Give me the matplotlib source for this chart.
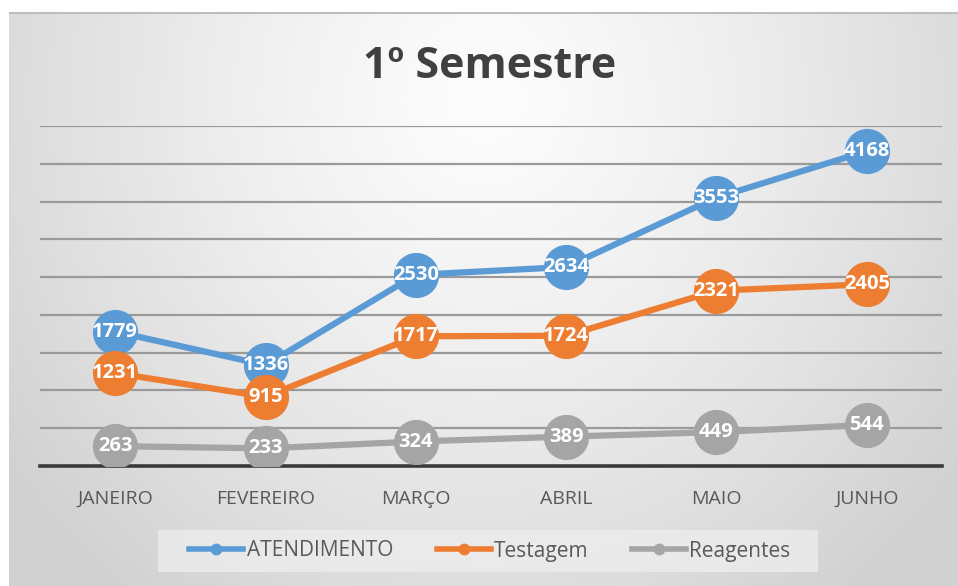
import numpy as np
import matplotlib
matplotlib.use("Agg")
import matplotlib.pyplot as plt
from matplotlib.lines import Line2D
from matplotlib.patches import Rectangle

months = ["JANEIRO", "FEVEREIRO", "MARÇO", "ABRIL", "MAIO", "JUNHO"]
atendimento = [1779, 1336, 2530, 2634, 3553, 4168]
testagem = [1231, 915, 1717, 1724, 2321, 2405]
reagentes = [263, 233, 324, 389, 449, 544]
series_names = ["ATENDIMENTO", "Testagem", "Reagentes"]
title = "1º Semestre"

colors = ["#5B9BD5", "#ED7D31", "#A5A5A5"]
FONT = ["Open Sans", "DejaVu Sans"]
plt.rcParams['font.family'] = FONT

W, H = 958, 586
fig = plt.figure(figsize=(W / 100, H / 100), dpi=100)
fig.patch.set_facecolor("white")

# background gradient
bg = fig.add_axes([9 / W, 0, 1 - 9 / W, (H - 12) / H])
bg.set_axis_off()
ny, nx = 300, 500
yy, xx = np.mgrid[0:ny, 0:nx]
cx, cy = nx * 0.5, ny * 0.15
d = np.sqrt(((xx - cx) / (nx * 0.62)) ** 2 + ((yy - cy) / (ny * 1.1)) ** 2)
d = np.clip(d, 0, 1)
val = 0.99 - 0.17 * d ** 1.3
img = np.dstack([val, val, val])
bg.imshow(img, aspect="auto", extent=[0, 1, 0, 1], origin="upper")
bg.set_xlim(0, 1)
bg.set_ylim(0, 1)
bg.plot([0, 1], [0.998, 0.998], color="#bdbdbd", lw=1.5, transform=bg.transAxes)

ax = fig.add_axes([40 / W, (H - 466) / H, 902 / W, (466 - 126) / H])
ax.patch.set_alpha(0)
x = np.arange(len(months))
ax.set_xlim(-0.5, len(months) - 0.5)
ax.set_ylim(0, 4500)
ax.set_yticks(np.arange(500, 4501, 500))
ax.yaxis.grid(True, color="#9a9a9a", lw=1.6)
ax.set_axisbelow(True)
ax.tick_params(axis="y", left=False, labelleft=False)
ax.tick_params(axis="x", length=0, pad=17, labelsize=14, labelcolor="#595959")
ax.set_xticks(x)
ax.set_xticklabels(months)
for s in ["top", "right", "left"]:
    ax.spines[s].set_visible(False)
ax.spines["bottom"].set_color("#3a3a3a")
ax.spines["bottom"].set_linewidth(2.6)

for vals, c in zip([atendimento, testagem, reagentes], colors):
    ax.plot(x, vals, color=c, lw=4.5, marker="o", markersize=31.5, zorder=3,
            solid_capstyle="round")
    for xi, v in zip(x, vals):
        ax.text(xi, v, str(v), ha="center", va="center", color="white",
                fontsize=14.5, fontweight="bold", zorder=5)

fig.text(490 / W, 1 - 66 / H, title, ha="center", va="center",
         fontsize=31, fontweight="bold", color="#404040")

# legend box
fig.patches.append(Rectangle((158 / W, 1 - 572 / H), (818 - 158) / W, 42 / H,
                             transform=fig.transFigure, facecolor="#ececec",
                             edgecolor="none", alpha=0.85, zorder=1))
handles = [Line2D([0], [0], color=c, lw=4, marker="o", markersize=7.5) for c in colors]
leg = fig.legend(handles, series_names, loc="center", bbox_to_anchor=(490 / W, 1 - 551 / H),
                 ncol=3, frameon=False, fontsize=15, handlelength=2.6, handletextpad=0.15,
                 columnspacing=2.1)
for t in leg.get_texts():
    t.set_color("#595959")

fig.savefig("out.png", dpi=100)
